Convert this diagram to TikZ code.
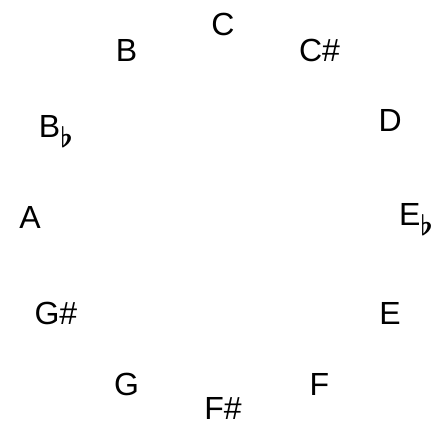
\RequirePackage{fix-cm}
\documentclass[tikz,border=0pt]{standalone}
\usepackage{fontspec}
\setmainfont{Liberation Sans}
\usetikzlibrary{calc}

% flat sign, lowered beside the letter
\newcommand{\flt}{\raisebox{-10pt}{\fontsize{28}{28}\selectfont\boldmath$\flat$}}

\begin{document}
\begin{tikzpicture}[
  x=1pt, y=1pt,
  note/.style = {inner sep=0pt, text height=23pt, text depth=0pt,
                 font=\fontsize{32}{32}\selectfont},
]
  \useasboundingbox (0,0) rectangle (440,426);
  \coordinate (o) at (223,209);

  % ── twelve pitch classes, clockwise from the top ──────────────────────
  \node[note] (c)   at ($(o)+(90:193)$)  {C};
  \node[note] (cs)  at ($(o)+(60:193)$)  {C\#};
  \node[note] (d)   at ($(o)+(30:193)$)  {D};
  \node[note, yshift=3pt] (eb) at ($(o)+(0:193)$) {E\flt};
  \node[note] (e)   at ($(o)+(-30:193)$) {E};
  \node[note] (f)   at ($(o)+(-60:193)$) {F};
  \node[note, yshift=2pt] (fs) at ($(o)+(-90:193)$) {F\#};
  \node[note] (g)   at ($(o)+(-120:193)$) {G};
  \node[note] (gs)  at ($(o)+(-150:193)$) {G\#};
  \node[note] (a)   at ($(o)+(180:193)$) {A};
  \node[note, yshift=-6pt] (bb) at ($(o)+(150:193)$) {B\flt};
  \node[note] (b)   at ($(o)+(120:193)$) {B};

\end{tikzpicture}
\end{document}
